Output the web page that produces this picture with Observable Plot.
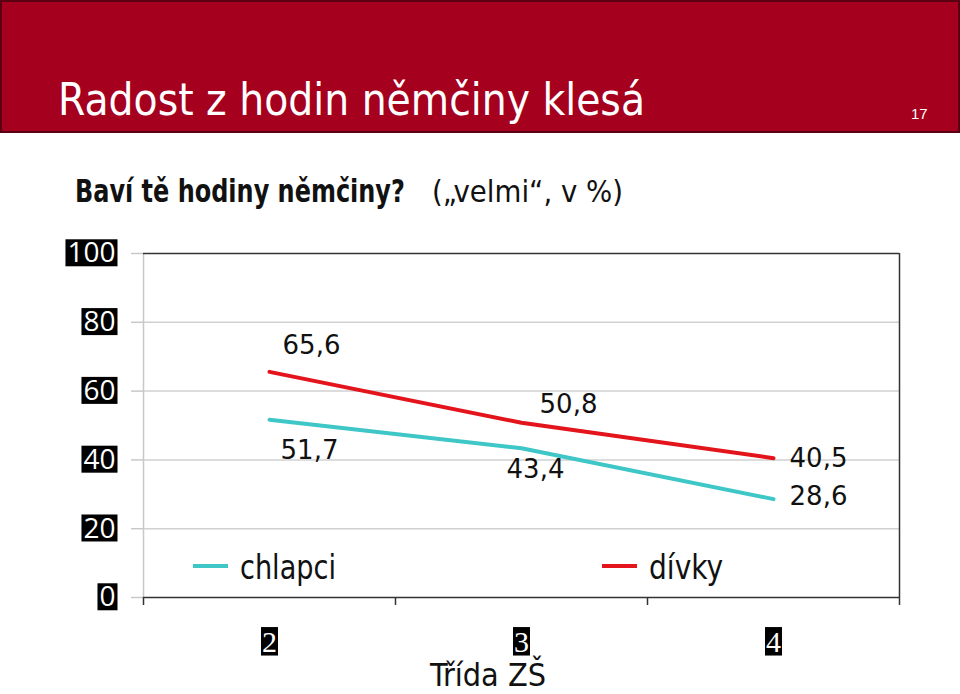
<!DOCTYPE html>
<html>
<head>
<meta charset="utf-8">
<script src="https://cdn.jsdelivr.net/npm/d3@7"></script>
<script src="https://cdn.jsdelivr.net/npm/@observablehq/plot@0.6"></script>
<style>
  html, body { margin: 0; padding: 0; background: #fff; }
  #page { position: relative; width: 960px; height: 694px; overflow: hidden; background: #fff; }
  #banner { position: absolute; left: 0; top: 0; width: 956px; height: 129px; background: #A6001F; border: 2px solid #5a0012; }
  #overlay { position: absolute; left: 0; top: 0; z-index: 2; pointer-events: none; }
  #chart { position: absolute; left: 0; top: 230px; z-index: 1; }
</style>
</head>
<body>
<div id="page">
  <div id="banner"></div>
  <div id="chart"></div>
  <svg id="overlay" width="960" height="694" xmlns="http://www.w3.org/2000/svg"></svg>
</div>
<script>
// ---- data ----
const grades = [2, 3, 4];
const chlapci = [51.7, 43.4, 28.6];
const divky = [65.6, 50.8, 40.5];
const seriesNames = ["chlapci", "dívky"];
const seriesColors = ["#3FC6C6", "#E3141B"];
const yTicks = [0, 20, 40, 60, 80, 100];
const titleText = "Radost z hodin němčiny klesá";
const subtitleBold = "Baví tě hodiny němčiny?";
const subtitleRest = "(„velmi“, v %)";
const slideNumber = "17";
const xLabel = "Třída ZŠ";

const rows = grades.flatMap((g, i) => [
  {grade: g, value: chlapci[i], series: seriesNames[0], idx: i},
  {grade: g, value: divky[i], series: seriesNames[1], idx: i}
]);
const edges = [grades[0] - 0.5, ...grades.map(g => g + 0.5)];
const fmt = v => v.toFixed(1).replace(".", ",");

// per-point label offsets (style only)
const labelOffsets = {
  "chlapci": [[40, 31], [14, 21], [45, -2]],
  "dívky": [[42, -26], [47, -18], [45, 0]]
};

const labelMarks = [];
seriesNames.forEach(s => {
  grades.forEach((g, i) => {
    const [dx, dy] = labelOffsets[s][i];
    labelMarks.push(Plot.text(rows.filter(r => r.series === s && r.idx === i), {
      x: "grade", y: "value", text: d => fmt(d.value), dx, dy,
      fontSize: 26, fontFamily: "DejaVu Sans", fill: "#111", textAnchor: "middle", lineAnchor: "middle"
    }));
  });
});

const chart = Plot.plot({
  width: 960,
  height: 464,
  marginTop: 23,
  marginBottom: 97,
  marginLeft: 143,
  marginRight: 61,
  style: {background: "transparent", overflow: "visible"},
  x: {domain: [edges[0], edges[edges.length - 1]], label: null},
  y: {domain: [0, 100], label: null},
  color: {domain: seriesNames, range: seriesColors},
  marks: [
    Plot.ruleY(yTicks.filter(v => v > 0 && v < 100), {stroke: "#d0d0d0", strokeWidth: 1.5}),
    Plot.ruleX([edges[0]], {stroke: "#c8c8c8", strokeWidth: 1.5}),
    Plot.axisY(yTicks, {tickSize: 12, tickPadding: 16, fontSize: 28, fontFamily: "Open Sans", stroke: "#c8c8c8", strokeWidth: 1.5, fill: "white", label: null}),
    Plot.axisX(edges, {tickSize: 8, tickFormat: () => "", stroke: "#333", strokeWidth: 1.5, label: null}),
    Plot.axisX(grades, {tickSize: 0, tickPadding: 33, fontSize: 30, fontFamily: "Liberation Sans Narrow", fill: "white", tickFormat: d => String(d), label: null}),
    Plot.ruleY([100], {stroke: "#333", strokeWidth: 1.5}),
    Plot.ruleY([0], {stroke: "#333", strokeWidth: 1.5}),
    Plot.ruleX([edges[edges.length - 1]], {stroke: "#333", strokeWidth: 1.5}),
    Plot.line(rows, {x: "grade", y: "value", z: "series", stroke: "series", strokeWidth: 4}),
    ...labelMarks
  ]
});
document.getElementById("chart").appendChild(chart);

// black boxes behind tick labels (sized from the rendered text)
const ns = "http://www.w3.org/2000/svg";
function addBoxes(groupLabel, fs, ascentFrac, capEm, padX, padT, padB) {
  chart.querySelectorAll(`g[aria-label="${groupLabel}"]`).forEach(g => {
    g.querySelectorAll("text").forEach(t => {
      if (!t.textContent.trim()) return;
      const b = t.getBBox();
      const baseline = b.y + ascentFrac * b.height;
      const r = document.createElementNS(ns, "rect");
      r.setAttribute("x", b.x - padX);
      r.setAttribute("width", b.width + 2 * padX);
      r.setAttribute("y", baseline - capEm * fs - padT);
      r.setAttribute("height", capEm * fs + padT + padB);
      r.setAttribute("fill", "#000");
      const tr = t.getAttribute("transform");
      if (tr) r.setAttribute("transform", tr);
      t.parentNode.insertBefore(r, t);
    });
  });
}
addBoxes("y-axis tick label", 28, 1.069 / 1.362, 0.714, 2, 3, 4);
addBoxes("x-axis tick label", 30, 0.905 / 1.117, 0.716, 1, 3, 4);

// overlay texts: title, subtitle, legend, axis label
const ov = d3.select("#overlay");
ov.append("text").attr("x", 58).attr("y", 115).attr("fill", "white")
  .attr("font-family", "DejaVu Sans").attr("font-size", 44)
  .attr("textLength", 587).attr("lengthAdjust", "spacingAndGlyphs").text(titleText);
ov.append("text").attr("x", 911).attr("y", 119).attr("fill", "white")
  .attr("font-family", "Liberation Sans").attr("font-size", 15).text(slideNumber);

// subtitle: bold part scaled to its measured span
const sb = ov.append("text").attr("x", 0).attr("y", 0).attr("fill", "#111")
  .attr("font-family", "DejaVu Sans Condensed").attr("font-size", 27).attr("font-weight", "bold")
  .text(subtitleBold);
const sbw = sb.node().getComputedTextLength();
sb.attr("transform", `translate(75,202) scale(${330 / sbw},${32 / 27})`);
ov.append("text").attr("x", 432).attr("y", 202).attr("fill", "#111")
  .attr("font-family", "DejaVu Sans Condensed").attr("font-size", 31)
  .attr("textLength", 191).attr("lengthAdjust", "spacingAndGlyphs").text(subtitleRest);

// legend
const legendItems = [
  {name: seriesNames[0], color: seriesColors[0], x: 193, w: 96},
  {name: seriesNames[1], color: seriesColors[1], x: 602, w: 74}
];
legendItems.forEach(it => {
  ov.append("line").attr("x1", it.x).attr("x2", it.x + 35).attr("y1", 566).attr("y2", 566)
    .attr("stroke", it.color).attr("stroke-width", 4);
  ov.append("text").attr("x", it.x + 47).attr("y", 579).attr("fill", "#111")
    .attr("font-family", "DejaVu Sans Condensed").attr("font-size", 34)
    .attr("textLength", it.w).attr("lengthAdjust", "spacingAndGlyphs").text(it.name);
});
ov.append("text").attr("x", 430).attr("y", 686).attr("fill", "#111")
  .attr("font-family", "DejaVu Sans Condensed").attr("font-size", 32)
  .attr("textLength", 116).attr("lengthAdjust", "spacingAndGlyphs").text(xLabel);
</script>
</body>
</html>
